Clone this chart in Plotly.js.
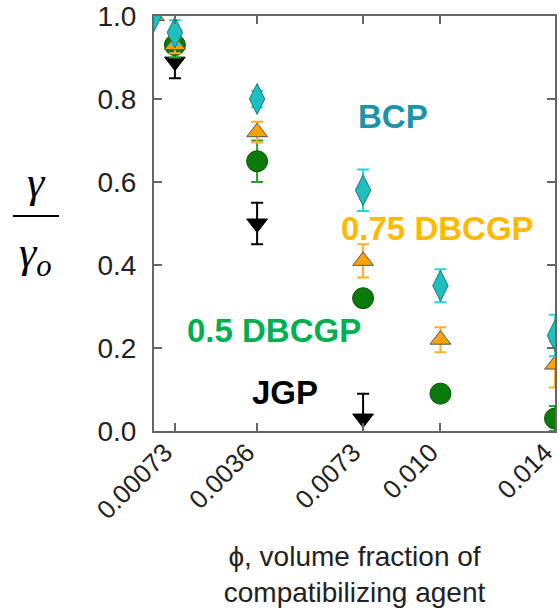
<!DOCTYPE html>
<html>
<head>
<meta charset="utf-8">
<script src="https://cdn.plot.ly/plotly-3.0.1.min.js"></script>
<style>html,body{margin:0;padding:0;background:#fff;}#chart{width:559px;height:608px;}</style>
</head>
<body>
<div id="chart"></div>
<script>
// Volume fraction of compatibilizing agent (x values)
const phiAll = [0, 0.00073, 0.0036, 0.0073, 0.010, 0.014];
const phiJGP = [0.00073, 0.0036, 0.0073];
const tickVals = [0.00073, 0.0036, 0.0073, 0.010, 0.014];
const tickLabels = ['0.00073', '0.0036', '0.0073', '0.010', '0.014'];

// gamma / gamma_o for each series
const bcp = [1.0, 0.96, 0.80, 0.58, 0.35, 0.23];
const bcpErr = [0, 0.03, 0.02, 0.05, 0.04, 0.05];
const dbcgp75 = [1.0, 0.93, 0.72, 0.41, 0.22, 0.16];
const dbcgp75Err = [0, 0.02, 0.025, 0.04, 0.03, 0.055];
const phi50 = [0.00073, 0.0036, 0.0073, 0.010, 0.014];
const dbcgp50 = [0.93, 0.65, 0.32, 0.09, 0.03];
const dbcgp50Err = [0.03, 0.05, 0.02, 0.02, 0.03];
const jgp = [0.89, 0.50, 0.03];
const jgpErr = [0.04, 0.05, 0.06];

const traces = [
  {
    name: 'JGP', x: phiJGP, y: jgp, type: 'scatter', mode: 'markers',
    marker: {symbol: 'triangle-down', size: 18, color: '#000000', line: {color: '#000000', width: 1}},
    error_y: {type: 'data', array: jgpErr, color: '#000000', thickness: 2, width: 6}
  },
  {
    name: '0.5 DBCGP', x: phi50, y: dbcgp50, type: 'scatter', mode: 'markers',
    marker: {symbol: 'circle', size: 21, color: '#0a7a0a', line: {color: '#065206', width: 1}},
    error_y: {type: 'data', array: dbcgp50Err, color: '#22a22a', thickness: 2, width: 6}
  },
  {
    name: '0.75 DBCGP', x: phiAll, y: dbcgp75, type: 'scatter', mode: 'markers',
    marker: {symbol: 'triangle-up', size: 18, color: '#ffa200', line: {color: '#555555', width: 1}},
    error_y: {type: 'data', array: dbcgp75Err, color: '#ffb020', thickness: 2, width: 6}
  },
  {
    name: 'BCP', x: phiAll, y: bcp, type: 'scatter', mode: 'markers',
    marker: {symbol: 'diamond-tall', size: 22, color: '#1fbfc0', line: {color: '#17787c', width: 1}},
    error_y: {type: 'data', array: bcpErr, color: '#27d4d8', thickness: 2, width: 6}
  }
];

const labelFont = {family: 'Liberation Sans, Arial, sans-serif', size: 33, weight: 'bold'};
const serif = {family: 'Liberation Serif, Times New Roman, serif', size: 44, color: '#000000'};

function label(text, x, y, color) {
  return {text: text, xref: 'paper', yref: 'paper', x: x, y: y, xanchor: 'center', yanchor: 'middle',
          showarrow: false, font: Object.assign({}, labelFont, {color: color})};
}

const layout = {
  width: 559, height: 608,
  margin: {l: 154, r: 4, t: 16, b: 177},
  paper_bgcolor: '#ffffff', plot_bgcolor: '#ffffff',
  showlegend: false,
  font: {family: 'Liberation Sans, Arial, sans-serif', color: '#222222'},
  xaxis: {
    range: [0, 0.014],
    tickmode: 'array', tickvals: tickVals, ticktext: tickLabels,
    tickangle: -45,
    ticklabeloverflow: 'allow',
    ticklabelshift: -10,
    ticklabelstandoff: -6,
    tickfont: {size: 26, color: '#222222'},
    ticks: 'inside', ticklen: 8, tickwidth: 2, tickcolor: '#666666',
    showline: true, linecolor: '#666666', linewidth: 2, mirror: 'ticks',
    showgrid: false, zeroline: false,
    title: {text: 'ϕ, volume fraction of<br>compatibilizing agent', font: {size: 28, color: '#222222'}, standoff: 22}
  },
  yaxis: {
    range: [0, 1.0],
    tickmode: 'array', tickvals: [0, 0.2, 0.4, 0.6, 0.8, 1.0],
    ticktext: ['0.0', '0.2', '0.4', '0.6', '0.8', '1.0'],
    tickfont: {size: 28, color: '#222222'},
    ticks: 'inside', ticklen: 8, tickwidth: 2, tickcolor: '#666666',
    ticklabelstandoff: 10,
    showline: true, linecolor: '#666666', linewidth: 2, mirror: 'ticks',
    showgrid: false, zeroline: false
  },
  annotations: [
    label('BCP', 0.596, 0.757, '#1b93a8'),
    label('0.75 DBCGP', 0.706, 0.487, '#ffba00'),
    label('0.5 DBCGP', 0.299, 0.243, '#00b050'),
    label('JGP', 0.327, 0.092, '#000000'),
    {text: '<i>γ</i>', xref: 'paper', yref: 'paper', x: -0.294, y: 0.598, xanchor: 'center', yanchor: 'middle',
     showarrow: false, font: serif},
    {text: '<i>γ<sub>o</sub></i>', xref: 'paper', yref: 'paper', x: -0.295, y: 0.422, xanchor: 'center', yanchor: 'middle',
     showarrow: false, font: serif}
  ],
  shapes: [
    {type: 'line', xref: 'paper', yref: 'paper', x0: -0.352, x1: -0.237, y0: 0.518, y1: 0.518,
     line: {color: '#000000', width: 2}}
  ]
};

Plotly.newPlot('chart', traces, layout, {staticPlot: true, displayModeBar: false});
</script>
</body>
</html>
